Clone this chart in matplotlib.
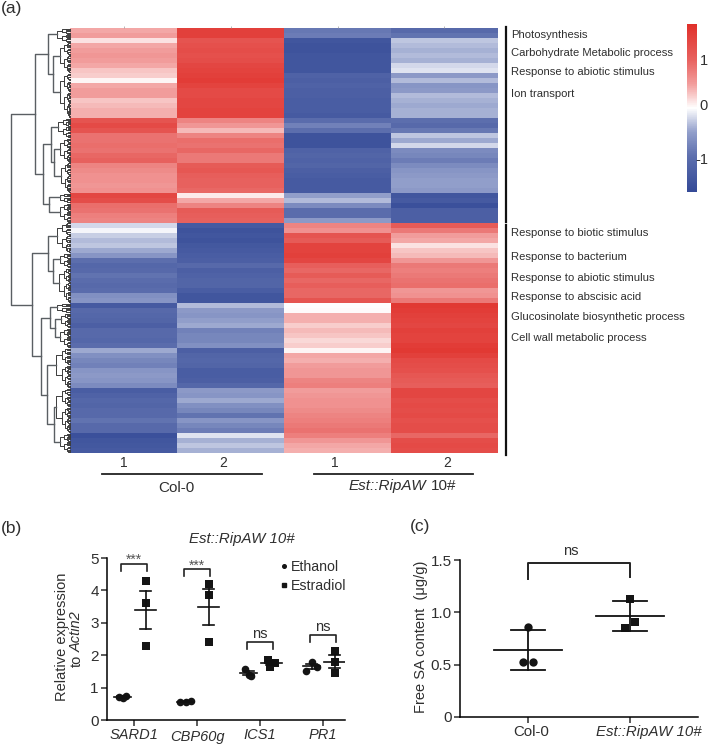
import numpy as np
import matplotlib
matplotlib.use('Agg')
import matplotlib.pyplot as plt
from matplotlib.colors import LinearSegmentedColormap
from matplotlib.lines import Line2D

plt.rcParams['font.family'] = ['Liberation Sans', 'DejaVu Sans']

W, H = 709, 744
INK = '#2f2f2f'

#-------------------------------------------------------------------
# log2 fold change per gene cluster row, top to bottom
COL0_1 = [.45, .5, .15, .45, .5, .55, .5, .45, .3, .25, .05, .45, .5, .5, .3, .35, .4, .4,
          1.2, 1.35, 1.2, .85, .85, .9, .85, .95, 1.0, .7, .65, .6, .6, .55, .6, 1.4, 1.3, .9, .85, .75, .7,
          -.2, -.05, -.25, -.35, -.3, -.45, -.6, -1.0, -1.15, -1.1, -.95, -1.05, -1.1, -1.05,
          -.65, -.6, -1.4, -1.1, -1.15, -1.2, -1.3, -1.1, -1.1, -1.15, -1.05, -.45, -.65, -.75, -.8, -.6, -.55, -.6, -.7,
          -1.35, -1.25, -1.15, -1.2, -1.1, -1.1, -.95, -1.1, -1.1, -1.6, -1.5, -1.45, -1.4]
COL0_2 = [1.5, 1.5, 1.2, 1.25, 1.3, 1.25, 1.3, 1.4, 1.45, 1.5, 1.55, 1.45, 1.35, 1.35, 1.4, 1.4, 1.45, 1.45,
          .7, .55, .35, .7, .9, .85, .95, .8, .8, 1.1, 1.15, 1.05, 1.0, 1.0, .95, .1, .45, .7, 1.1, 1.05, 1.0,
          -1.4, -1.55, -1.5, -1.55, -1.45, -1.4, -1.35, -1.3, -1.1, -1.3, -1.25, -1.2, -1.2, -1.35, -1.5, -1.5,
          -.35, -.55, -.6, -.5, -.45, -.8, -.75, -.75, -.65, -1.3, -1.2, -1.15, -1.2, -1.35, -1.35, -1.3, -1.15,
          -.55, -.6, -.45, -.65, -.75, -.95, -.6, -.75, -.85, -.15, -.4, -.3, -.4]
RIPAW_1 = [-.9, -.85, -1.5, -1.55, -1.55, -1.5, -1.5, -1.5, -1.5, -1.25, -1.3, -1.25, -1.3, -1.3, -1.35, -1.35, -1.35, -1.4,
           -1.05, -.8, -1.0, -1.55, -1.55, -1.55, -1.25, -1.2, -1.25, -1.2, -1.3, -1.35, -1.4, -1.4, -1.4, -.5, -.35, -.7, -1.05, -1.05, -.55,
           .7, .6, 1.2, 1.1, 1.45, 1.45, 1.5, 1.4, 1.05, .95, 1.1, .95, 1.05, .95, .95, 1.2,
           .0, .02, .4, .4, .25, .35, .3, .2, .25, .05, .45, .4, .5, .55, .55, .7, .75,
           .5, .55, .6, .6, .65, .7, .75, .8, .85, .75, .55, .45, .4]
RIPAW_2 = [-1.1, -.95, -.3, -.35, -.4, -.35, -.4, -.2, -.15, -.55, -.35, -.6, -.55, -.35, -.4, -.45, -.4, -.4,
           -1.0, -1.1, -.9, -.3, -.45, -.2, -.7, -.75, -.85, -.7, -.6, -.55, -.5, -.5, -.55, -1.5, -1.4, -1.6, -1.3, -1.3, -1.3,
           1.1, .8, .5, .45, .15, .3, .35, .55, .8, .75, .8, .85, .9, .55, .6, .8,
           1.6, 1.55, 1.5, 1.45, 1.4, 1.5, 1.45, 1.45, 1.55, 1.6, 1.5, 1.35, 1.3, 1.25, 1.15, 1.1, 1.05,
           1.4, 1.4, 1.3, 1.35, 1.3, 1.35, 1.25, 1.3, 1.3, .95, 1.3, 1.35, 1.3]

COLUMN_LABELS = ['1', '2', '1', '2']
UPPER_TERMS = ['Photosynthesis', 'Carbohydrate Metabolic process', 'Response to abiotic stimulus', 'Ion transport']
LOWER_TERMS = ['Response to biotic stimulus', 'Response to bacterium', 'Response to abiotic stimulus',
               'Response to abscisic acid', 'Glucosinolate biosynthetic process', 'Cell wall metabolic process']

# clades as (pixel x of the join, child, child); a two int tuple is a row range
TREE = (11,
        (35,
         (48, (57, 0, 3),
              (53, (60, 3, 9), (60, 9, 18))),
         (43, (51, (58, 18, 22), (54, (60, 22, 27), (61, 27, 33))),
              (49, (60, 33, 35), (60, 35, 39)))),
        (32,
         (48, (57, 39, 45),
              (53, (60, 45, 48), (59, 48, 55))),
         (41, (50, (57, 55, 57), (55, (61, 57, 60), (60, 60, 64))),
              (47, (56, 64, 72),
                   (54, (56, 72, 81), (60, 81, 85))))))

# panel b
GENES = ['SARD1', 'CBP60g', 'ICS1', 'PR1']
ETHANOL = [[.72, .67, .75], [.57, .56, .58], [1.57, 1.38, 1.36], [1.5, 1.78, 1.65]]
ESTRADIOL = [[4.29, 3.6, 2.27], [4.2, 3.87, 2.4], [1.85, 1.65, 1.75], [2.14, 1.78, 1.45]]
ETHANOL_JITTER = [[-.06, 0, .06], [-.08, 0, .08], [-.06, 0, .04], [-.08, 0, .08]]
ESTRADIOL_JITTER = [[0, 0, 0], [0, 0, 0], [-.06, -.02, .06], [0, 0, 0]]
ETHANOL_MEAN = [.72, .57, 1.45, 1.66]
ETHANOL_SEM = [.03, .01, .07, .08]
ESTRADIOL_MEAN = [3.4, 3.49, 1.77, 1.8]
ESTRADIOL_SEM = [.59, .56, .06, .2]
B_MARKS = ['***', '***', 'ns', 'ns']
B_BRACKET_TOPS = [4.83, 4.65, 2.42, 2.62]

# panel c
LINES = ['Col-0', 'Est::RipAW 10#']
SA_COL0 = [.86, .53, .53]
SA_RIPAW = [1.13, .91, .85]
SA_COL0_JITTER = [0, -.05, .05]
SA_RIPAW_JITTER = [0, .05, -.05]
SA_MEAN = [.64, .965]
SA_SD = [.19, .148]

#-------------------------------------------------------------------
def add_axes_px(fig, left, top, right, bottom):
    return fig.add_axes([left / W, 1 - bottom / H, (right - left) / W, (bottom - top) / H])

def label_px(fig, x, y, s, **kw):
    kw.setdefault('color', INK)
    kw.setdefault('va', 'center')
    kw.setdefault('ha', 'left')
    return fig.text(x / W, 1 - y / H, s, **kw)

def line_px(fig, xs, ys, **kw):
    fig.add_artist(Line2D([x / W for x in xs], [1 - y / H for y in ys], transform=fig.transFigure, **kw))

#-------------------------------------------------------------------
def row_y(row):
    return 28 + 5 * row

def draw_fine(fig, x, lo, hi, right=70):
    '''
    Draw the dense twigs of one clade, with hi - lo in rows. Returns the pixel y of its join.
    '''
    if hi - lo <= .4:
        return row_y((lo + hi) / 2)
    mid = lo + (hi - lo) * .42
    next_x = x + (right - x) * .42
    y1 = draw_fine(fig, next_x, lo, mid)
    y2 = draw_fine(fig, next_x, mid, hi)
    x1 = next_x if mid - lo > .4 else right
    x2 = next_x if hi - mid > .4 else right
    line_px(fig, [x1, x, x, x2], [y1, y1, y2, y2], color='#3c3c3c', lw=.7)
    return (y1 + y2) / 2

def draw_clade(fig, node):
    x, a, b = node
    if isinstance(a, int):
        return x, draw_fine(fig, x, a, b)
    xa, ya = draw_clade(fig, a)
    xb, yb = draw_clade(fig, b)
    line_px(fig, [xa, x, x, xb], [ya, ya, yb, yb], color='#5a5f63', lw=1.0)
    return x, (ya + yb) / 2

#-------------------------------------------------------------------
def draw_heatmap(fig):
    # the scale runs steeper close to zero, pinks and blues saturate early
    stops = [(0, '#344a97'), (.214, '#5d6fae'), (.357, '#929fcb'), (.5, '#ffffff'),
             (.643, '#f29d9c'), (.786, '#e8625f'), (1, '#e0302a')]
    cmap = LinearSegmentedColormap.from_list('bwr_paper', stops)
    ax = add_axes_px(fig, 70, 28, 498, 453)
    values = np.array([COL0_1, COL0_2, RIPAW_1, RIPAW_2]).T
    im = ax.imshow(values, cmap=cmap, vmin=-1.75, vmax=1.75, aspect='auto', interpolation='nearest')
    ax.set_xticks(range(4))
    ax.set_yticks([])
    ax.xaxis.tick_top()
    ax.tick_params(axis='x', length=1.5, width=.5, color='#999999', labeltop=False, pad=0)
    for side in ax.spines.values():
        side.set_visible(False)

    cax = add_axes_px(fig, 687, 24, 697, 192)
    cb = fig.colorbar(im, cax=cax)
    cb.outline.set_visible(False)
    cb.set_ticks([])
    label_px(fig, 708, 61, '1', ha='right', fontsize=10.5)
    label_px(fig, 708, 106, '0', ha='right', fontsize=10.5)
    label_px(fig, 708, 160, '-1', ha='right', fontsize=10.5)

    draw_clade(fig, TREE)

    for x, s in zip([124, 223, 335, 447], COLUMN_LABELS):
        label_px(fig, x, 463, s, ha='center', fontsize=10)
    line_px(fig, [102, 262], [474, 474], color='#222222', lw=1.3)
    line_px(fig, [314, 473], [474, 474], color='#222222', lw=1.3)
    label_px(fig, 176, 488, 'Col-0', ha='center', fontsize=11)
    label_px(fig, 349, 486, 'Est::RipAW', style='italic', fontsize=11)
    label_px(fig, 431, 486, '10#', fontsize=11)

    line_px(fig, [505.5, 505.5], [27, 222], color='#111111', lw=1.6)
    line_px(fig, [505.5, 505.5], [225, 455], color='#111111', lw=1.6)
    for y, s in zip([35, 53, 72, 94], UPPER_TERMS):
        label_px(fig, 511, y, s, fontsize=8.1)
    for y, s in zip([233, 257, 278, 297, 317, 338], LOWER_TERMS):
        label_px(fig, 511, y, s, fontsize=8.1)

#-------------------------------------------------------------------
def style_axis(ax):
    ax.spines['top'].set_visible(False)
    ax.spines['right'].set_visible(False)
    ax.spines['left'].set_linewidth(1.1)
    ax.spines['bottom'].set_linewidth(1.1)
    ax.patch.set_alpha(0)
    ax.tick_params(length=4, width=1.1, labelsize=11, colors=INK, pad=2)

def mean_bars(ax, x, mean, err, half, cap, color='#111111', lw=1.2):
    ax.plot([x - half, x + half], [mean, mean], color=color, lw=lw, zorder=3)
    ax.plot([x, x], [mean - err, mean + err], color=color, lw=lw, zorder=3)
    for end in (mean - err, mean + err):
        ax.plot([x - cap, x + cap], [end, end], color=color, lw=lw, zorder=3)

def draw_expression(fig):
    ax = add_axes_px(fig, 107, 558, 345, 720)
    ax.set_xlim(-27 / 63, 3 + 22 / 63)
    ax.set_ylim(0, 5)
    dx = 11.5 / 63
    for i in range(len(GENES)):
        ax.scatter(i - dx + np.array(ETHANOL_JITTER[i]), ETHANOL[i], s=30, marker='o', color='#151515', zorder=2, linewidths=0)
        ax.scatter(i + dx + np.array(ESTRADIOL_JITTER[i]), ESTRADIOL[i], s=32, marker='s', color='#151515', zorder=2, linewidths=0)
        mean_bars(ax, i - dx, ETHANOL_MEAN[i], ETHANOL_SEM[i], .14, .08)
        mean_bars(ax, i + dx, ESTRADIOL_MEAN[i], ESTRADIOL_SEM[i], .17, .09)
        top = B_BRACKET_TOPS[i]
        ax.plot([i - dx - .02, i - dx - .02, i + dx + .02, i + dx + .02], [top - .22, top, top, top - .22], color='#222222', lw=1.2)
        if B_MARKS[i] == '***':
            ax.text(i, top + .12, B_MARKS[i], ha='center', va='center', fontsize=10, color='#555555', clip_on=False)
        else:
            ax.text(i, top + .03, B_MARKS[i], ha='center', va='bottom', fontsize=10.5, color=INK, clip_on=False)
    ax.set_xticks(range(len(GENES)))
    ax.set_xticklabels(GENES, style='italic')
    ax.set_yticks(range(6))
    style_axis(ax)
    ax.tick_params(axis='x', labelsize=10.5, pad=1.5)
    ax.get_xticklabels()[1].set_y(-.012)

    handles = [Line2D([], [], marker='o', ls='', color='#151515', ms=2.6, label='Ethanol'),
               Line2D([], [], marker='s', ls='', color='#151515', ms=2.6, label='Estradiol')]
    ax.legend(handles=handles, frameon=False, loc='upper left', bbox_to_anchor=(.73, .985), fontsize=10.2,
              handlelength=.5, handletextpad=.2, labelspacing=.3, borderpad=0, borderaxespad=0, labelcolor=INK)

    label_px(fig, 242, 539, 'Est::RipAW 10#', ha='center', style='italic', fontsize=10.8)
    label_px(fig, 62, 637, 'Relative expression', ha='center', rotation=90, fontsize=10.5)
    label_px(fig, 77, 661, 'to', ha='center', rotation=90, fontsize=10.5)
    label_px(fig, 77, 632, 'Actin2', ha='center', rotation=90, style='italic', fontsize=10.5)

#-------------------------------------------------------------------
def draw_sa_content(fig):
    ax = add_axes_px(fig, 460, 560, 698, 717)
    ax.set_xlim(-68 / 102, 1 + 68 / 102)
    ax.set_ylim(0, 1.5)
    ax.scatter(np.array(SA_COL0_JITTER), SA_COL0, s=36, marker='o', color='#151515', zorder=2, linewidths=0)
    ax.scatter(1 + np.array(SA_RIPAW_JITTER), SA_RIPAW, s=40, marker='s', color='#151515', zorder=2, linewidths=0)
    for i in range(2):
        mean_bars(ax, i, SA_MEAN[i], SA_SD[i], .335, .165, lw=1.3)
    ax.plot([0, 0, 1, 1], [1.32, 1.47, 1.47, 1.34], color='#222222', lw=1.4)
    ax.text(.42, 1.52, 'ns', ha='center', va='bottom', fontsize=10.5, color=INK, clip_on=False)
    ax.set_xticks([0, 1])
    ax.set_xticklabels(['', ''])
    ax.set_yticks([0, .5, 1, 1.5])
    ax.set_yticklabels(['0', '0.5', '1.0', '1.5'])
    style_axis(ax)
    label_px(fig, 531, 732, LINES[0], ha='center', fontsize=10.8)
    label_px(fig, 649, 732, LINES[1], ha='center', style='italic', fontsize=10.8)
    label_px(fig, 421, 637, 'Free SA content  (μg/g)', ha='center', rotation=90, fontsize=10.5)

#-------------------------------------------------------------------
fig = plt.figure(figsize=(W / 100, H / 100), dpi=100)
draw_heatmap(fig)
draw_expression(fig)
draw_sa_content(fig)

label_px(fig, 1, 8, '(a)', fontsize=12.5)
label_px(fig, 1, 529, '(b)', fontsize=12.5)
label_px(fig, 410, 527, '(c)', fontsize=12.5)

fig.savefig('out.png', dpi=100)
